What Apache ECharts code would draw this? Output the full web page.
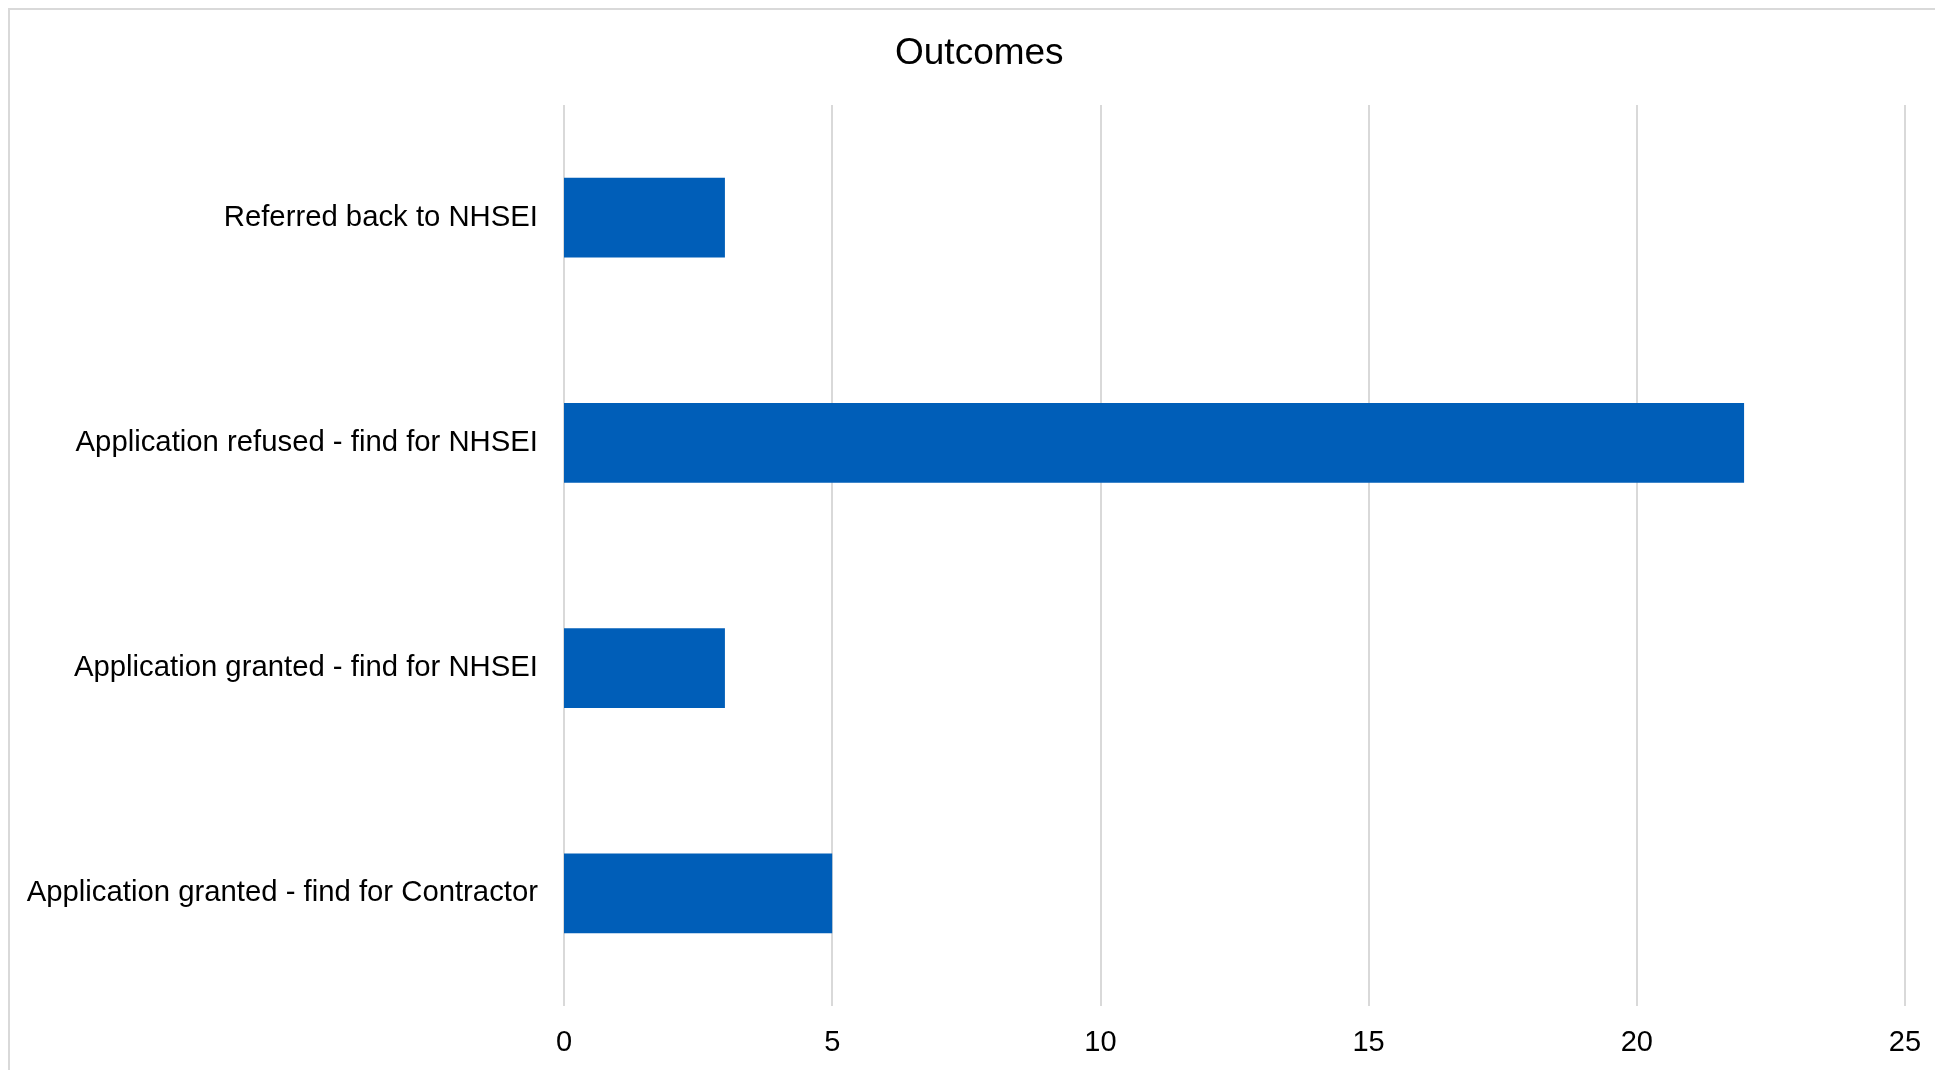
<!DOCTYPE html>
<html>
<head>
<meta charset="utf-8">
<script src="https://cdn.jsdelivr.net/npm/echarts@6/dist/echarts.min.js"></script>
<style>html,body{margin:0;padding:0;background:#fff;}#c{width:1935px;height:1070px;}</style>
</head>
<body>
<div id="c"></div>
<script>
const categories = ['Application granted - find for Contractor', 'Application granted - find for NHSEI', 'Application refused - find for NHSEI', 'Referred back to NHSEI'];
const values = [5, 3, 22, 3];
const xTicks = [0, 5, 10, 15, 20, 25];

const chart = echarts.init(document.getElementById('c'));
const font = 'Liberation Sans, Arial, sans-serif';
chart.setOption({
  animation: false,
  backgroundColor: '#fff',
  title: {
    text: 'Outcomes', left: 890, top: 30,
    textStyle: { fontFamily: font, fontSize: 37, fontWeight: 'normal', color: '#000' }
  },
  graphic: [{
    type: 'rect', shape: { x: 9, y: 9, width: 2100, height: 2100 },
    style: { fill: 'none', stroke: '#d9d9d9', lineWidth: 2 }, silent: true
  }],
  grid: { left: 564, right: 30, top: 105, bottom: 64 },
  xAxis: {
    type: 'value', min: xTicks[0], max: xTicks[xTicks.length - 1], interval: 5,
    axisLine: { show: false }, axisTick: { show: false },
    splitLine: { show: true, lineStyle: { color: '#d9d9d9', width: 2 } },
    axisLabel: { fontFamily: font, fontSize: 29, color: '#000', margin: 22 }
  },
  yAxis: {
    type: 'category', data: categories,
    axisLine: { show: false }, axisTick: { show: false },
    axisLabel: { fontFamily: font, fontSize: 29.3, color: '#000', margin: 26 }
  },
  series: [{
    type: 'bar', data: values, barWidth: '35.5%',
    itemStyle: { color: '#005EB8' }
  }]
});
</script>
</body>
</html>
